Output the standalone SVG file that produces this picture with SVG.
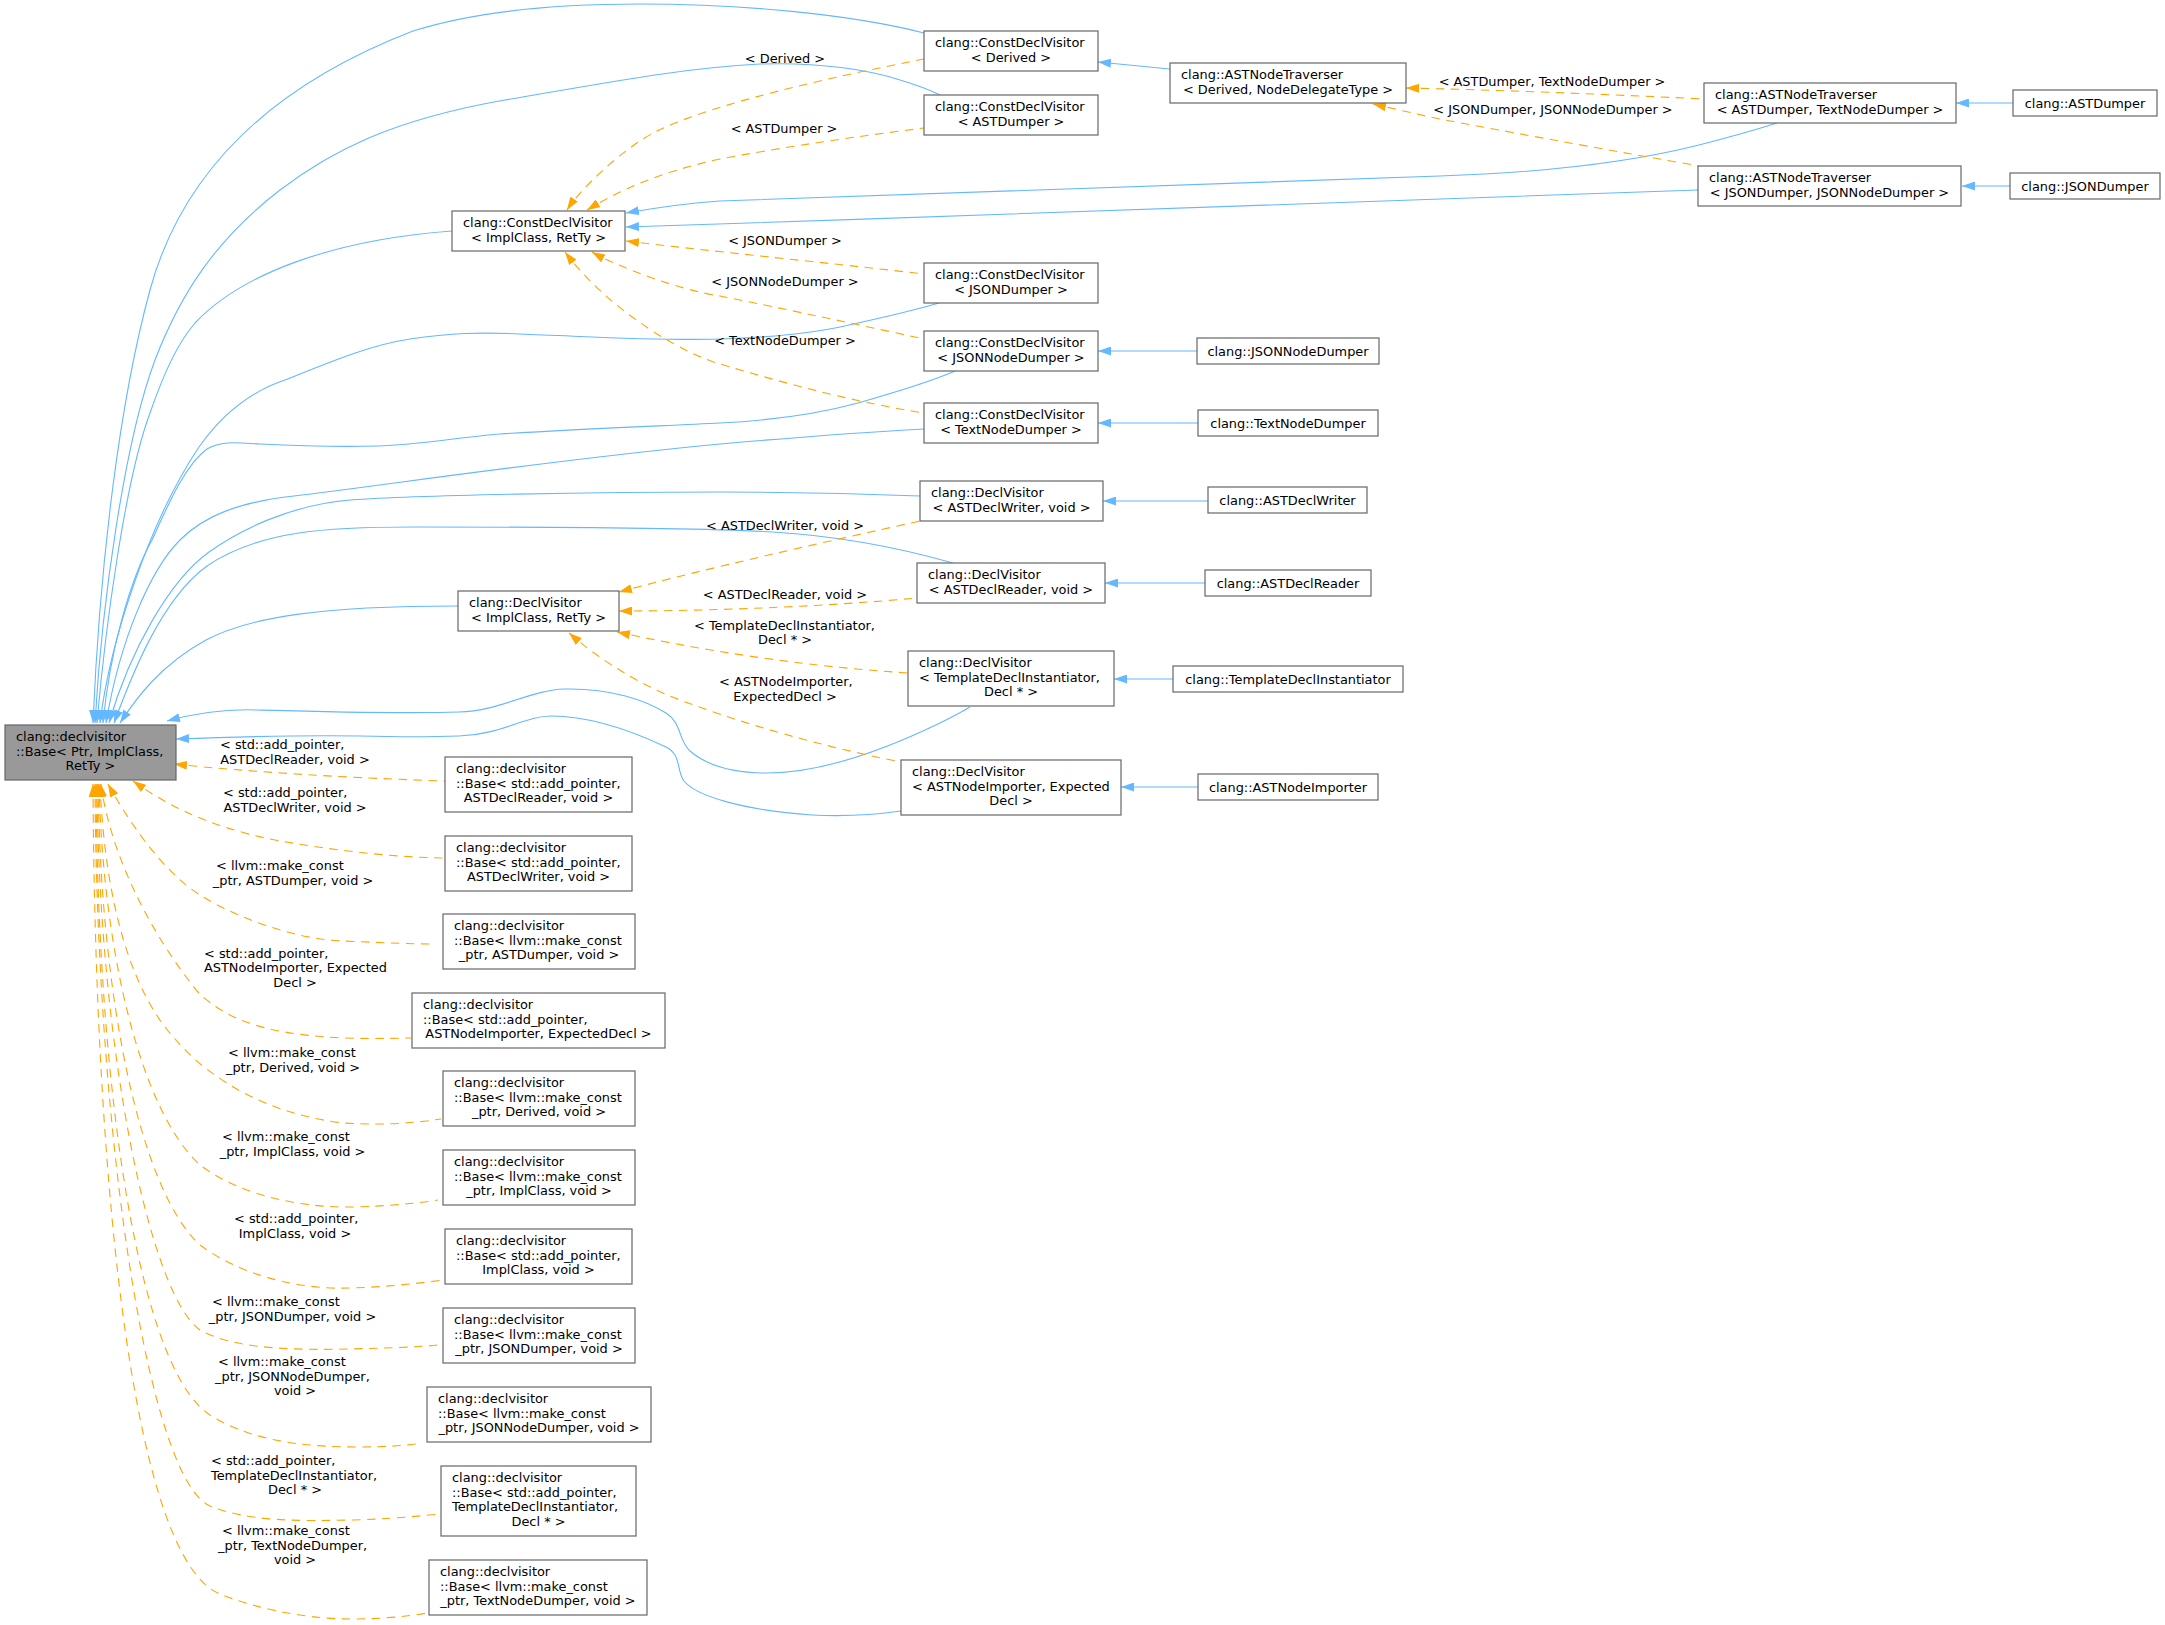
<svg xmlns="http://www.w3.org/2000/svg" width="2165" height="1625" viewBox="0 0 2165 1625">
<style>
.n rect{fill:#fff;stroke:#666;stroke-width:1.2}
.n.root rect{fill:#999}
text{font-family:"DejaVu Sans","Liberation Sans",sans-serif;font-size:12.9px;fill:#000}
.m{text-anchor:middle}
.e path{fill:none;stroke-width:1.1}
.e .p{stroke:#63b8ff;marker-start:url(#ab)}
.e .t{stroke:#ffa500;stroke-dasharray:8.5,6.5;marker-start:url(#ao)}
</style>
<defs>
<marker id="ab" viewBox="0 0 13 9" refX="13" refY="4.5" markerWidth="13" markerHeight="9" markerUnits="userSpaceOnUse" orient="auto-start-reverse"><path d="M0,0 L13,4.5 L0,9 z" fill="#63b8ff"/></marker>
<marker id="ao" viewBox="0 0 13 9" refX="13" refY="4.5" markerWidth="13" markerHeight="9" markerUnits="userSpaceOnUse" orient="auto-start-reverse"><path d="M0,0 L13,4.5 L0,9 z" fill="#ffa500"/></marker>
</defs>
<rect width="2165" height="1625" fill="#fff"/>
<g id="connectors" class="e">
<path class="p" d="M93,723 C100,560 120,400 150,290 C180,180 260,90 413,31 C480,10 560,4 640,4 C740,4 850,14 924,33"/>
<path class="p" d="M95,723 C102,600 125,440 155,360 C180,295 215,240 280,190 C330,152 390,120 505,100 C600,84 680,68 760,64 C820,62 870,70 900,80 C920,86 932,91 940,95"/>
<path class="p" d="M97,723 C105,630 125,480 150,413 C165,370 178,343 195,323 C240,275 330,240 452,231"/>
<path class="p" d="M100,723 C110,640 150,520 199,447 C225,410 255,390 285,380 C330,362 370,345 410,339 C450,333 480,332 520,334 C600,337 660,341 720,339 C780,337 820,332 849,325 C890,316 915,310 939,303"/>
<path class="p" d="M103,723 C110,650 130,580 152,540 C168,505 185,465 207,449 C222,440 240,443 260,444 C300,446 340,447 377,446 C420,445 460,437 500,434 C580,429 660,426 720,423 C780,420 825,412 858,403 C900,391 930,382 955,371"/>
<path class="p" d="M106,723 C120,640 150,570 180,540 C205,515 240,502 294,496 C380,486 550,460 720,444 C800,437 870,432 924,429"/>
<path class="p" d="M109,723 C130,650 170,580 209,552 C240,530 290,505 350,500 C420,495 600,492 720,492 C800,492 870,494 920,496"/>
<path class="p" d="M114,723 C130,680 160,600 207,566 C260,530 330,527 414,527 C550,527 700,528 773,532 C840,536 900,548 953,563"/>
<path class="p" d="M120,723 C135,700 160,665 206,640 C250,617 320,606 458,606"/>
<path class="p" d="M167,721 C200,712 230,709 257,710 C330,712 400,714 459,712 C500,711 530,690 565,689 C610,688 645,700 666,713 C682,723 678,740 690,751 C705,764 730,773 767,773 C820,773 880,752 940,723 C952,717 962,712 970,707"/>
<path class="p" d="M176,739 C230,737 300,735 360,736 C400,737 430,737 459,736 C500,735 525,716 551,716 C590,716 630,730 666,747 C682,755 676,770 684,781 C695,795 740,810 812,815 C850,817 880,814 901,811"/>
<path class="p" d="M1098,62 L1170,69"/>
<path class="p" d="M626,213 C660,207 690,203 720,201 C960,193 1200,185 1440,176 C1530,173 1620,165 1699,145 C1730,137 1755,130 1777,123"/>
<path class="p" d="M626,227 C1000,215 1400,200 1698,190"/>
<path class="p" d="M1956,103 L2013,103"/>
<path class="p" d="M1962,186 L2010,186"/>
<path class="p" d="M1098,351 L1197,351"/>
<path class="p" d="M1098,423 L1198,423"/>
<path class="p" d="M1103,501 L1208,501"/>
<path class="p" d="M1105,583 L1205,583"/>
<path class="p" d="M1114,679 L1173,679"/>
<path class="p" d="M1121,787 L1198,787"/>
<path class="t" d="M567,210 C580,190 620,150 657,131 C700,110 790,85 924,59"/>
<path class="t" d="M587,210 C620,190 660,172 720,159 C790,146 860,136 924,128"/>
<path class="t" d="M626,241 C700,250 820,262 924,274"/>
<path class="t" d="M592,252 C620,268 680,290 720,296 C790,310 860,325 924,339"/>
<path class="t" d="M565,252 C590,285 620,310 657,334 C680,348 700,358 720,364 C790,385 860,403 924,413"/>
<path class="t" d="M1406,88 C1500,90 1600,94 1704,99"/>
<path class="t" d="M1373,104 C1400,110 1420,115 1440,119 C1530,136 1620,152 1699,166"/>
<path class="t" d="M619,592 C700,570 820,543 920,521"/>
<path class="t" d="M619,611 C720,611 830,606 917,598"/>
<path class="t" d="M617,632 C700,650 800,666 908,673"/>
<path class="t" d="M569,633 C600,660 640,685 680,700 C760,730 840,750 901,762"/>
<path class="t" d="M174,764 C250,772 350,778 445,781"/>
<path class="t" d="M133,781 C160,800 200,825 275,840 C330,850 390,857 443,858"/>
<path class="t" d="M108,784 C125,815 160,870 200,895 C240,920 300,940 344,941 C390,943 415,944 436,944"/>
<path class="t" d="M101,784 C108,840 140,920 197,991 C230,1025 280,1035 344,1038 C380,1039 400,1038 411,1038"/>
<path class="t" d="M100,784 C105,900 130,990 175,1039 C210,1080 270,1115 344,1123 C390,1126 420,1122 441,1119"/>
<path class="t" d="M99,784 C103,950 140,1110 200,1165 C240,1195 300,1208 353,1207 C390,1206 420,1203 438,1200"/>
<path class="t" d="M98,784 C101,1000 140,1190 200,1245 C240,1275 300,1290 349,1288 C390,1287 420,1283 444,1280"/>
<path class="t" d="M97,784 C99,1050 150,1295 200,1330 C235,1350 300,1350 349,1349 C390,1348 420,1347 438,1345"/>
<path class="t" d="M96,784 C98,1100 140,1370 210,1415 C250,1440 300,1447 358,1447 C390,1447 410,1445 422,1443"/>
<path class="t" d="M95,784 C97,1150 150,1480 210,1506 C250,1522 300,1521 353,1520 C390,1519 420,1516 440,1514"/>
<path class="t" d="M93,784 C95,1200 135,1560 220,1594 C260,1610 310,1619 350,1619 C385,1619 410,1616 427,1613"/>
<g id="edge-labels">
<text class="m" x="785" y="63">&lt; Derived &gt;</text>
<text class="m" x="784" y="133">&lt; ASTDumper &gt;</text>
<text class="m" x="785" y="245">&lt; JSONDumper &gt;</text>
<text class="m" x="785" y="285.5">&lt; JSONNodeDumper &gt;</text>
<text class="m" x="785" y="345">&lt; TextNodeDumper &gt;</text>
<text class="m" x="1552" y="86">&lt; ASTDumper, TextNodeDumper &gt;</text>
<text class="m" x="1553" y="113.5">&lt; JSONDumper, JSONNodeDumper &gt;</text>
<text class="m" x="785" y="530">&lt; ASTDeclWriter, void &gt;</text>
<text class="m" x="785" y="598.6">&lt; ASTDeclReader, void &gt;</text>
<text x="694" y="629.6">&lt; TemplateDeclInstantiator,</text>
<text class="m" x="785" y="644.3">Decl * &gt;</text>
<text x="719" y="686.3">&lt; ASTNodeImporter,</text>
<text class="m" x="785" y="701">ExpectedDecl &gt;</text>
<text x="220" y="749">&lt; std::add_pointer,</text>
<text class="m" x="295" y="763.7">ASTDeclReader, void &gt;</text>
<text x="223" y="797">&lt; std::add_pointer,</text>
<text class="m" x="295" y="811.7">ASTDeclWriter, void &gt;</text>
<text x="216" y="870">&lt; llvm::make_const</text>
<text class="m" x="293" y="884.7">_ptr, ASTDumper, void &gt;</text>
<text x="204" y="957.6">&lt; std::add_pointer,</text>
<text x="204" y="972.3">ASTNodeImporter, Expected</text>
<text class="m" x="295" y="987">Decl &gt;</text>
<text x="228" y="1057">&lt; llvm::make_const</text>
<text class="m" x="293" y="1071.7">_ptr, Derived, void &gt;</text>
<text x="222" y="1141">&lt; llvm::make_const</text>
<text class="m" x="292.5" y="1155.7">_ptr, ImplClass, void &gt;</text>
<text x="234" y="1223">&lt; std::add_pointer,</text>
<text class="m" x="295" y="1237.7">ImplClass, void &gt;</text>
<text x="212" y="1306">&lt; llvm::make_const</text>
<text class="m" x="292.5" y="1320.7">_ptr, JSONDumper, void &gt;</text>
<text x="218" y="1366">&lt; llvm::make_const</text>
<text x="215" y="1380.7">_ptr, JSONNodeDumper,</text>
<text class="m" x="295" y="1395.3">void &gt;</text>
<text x="211" y="1465">&lt; std::add_pointer,</text>
<text x="211" y="1479.7">TemplateDeclInstantiator,</text>
<text class="m" x="295" y="1494.3">Decl * &gt;</text>
<text x="222" y="1535">&lt; llvm::make_const</text>
<text x="218" y="1549.7">_ptr, TextNodeDumper,</text>
<text class="m" x="295" y="1564.3">void &gt;</text>
</g>
</g>
<g id="nodes">
<g id="n-base" class="n root"><rect x="5" y="725" width="171" height="55"/><text x="16" y="741">clang::declvisitor</text><text x="16" y="755.7">::Base&lt; Ptr, ImplClass,</text><text class="m" x="90.5" y="770.3">RetTy &gt;</text></g>
<g id="n-cdv-impl" class="n"><rect x="452" y="211" width="173" height="40"/><text x="463" y="227">clang::ConstDeclVisitor</text><text class="m" x="538.5" y="241.7">&lt; ImplClass, RetTy &gt;</text></g>
<g id="n-cdv-derived" class="n"><rect x="924" y="31" width="174" height="40"/><text x="935" y="47">clang::ConstDeclVisitor</text><text class="m" x="1011" y="61.7">&lt; Derived &gt;</text></g>
<g id="n-cdv-astdumper" class="n"><rect x="924" y="95" width="174" height="40"/><text x="935" y="111">clang::ConstDeclVisitor</text><text class="m" x="1011" y="125.7">&lt; ASTDumper &gt;</text></g>
<g id="n-ant-derived" class="n"><rect x="1170" y="63" width="236" height="40"/><text x="1181" y="79">clang::ASTNodeTraverser</text><text class="m" x="1288" y="93.7">&lt; Derived, NodeDelegateType &gt;</text></g>
<g id="n-ant-astdumper" class="n"><rect x="1704" y="83" width="252" height="40"/><text x="1715" y="99">clang::ASTNodeTraverser</text><text class="m" x="1830" y="113.7">&lt; ASTDumper, TextNodeDumper &gt;</text></g>
<g id="n-astdumper" class="n"><rect x="2013" y="90" width="144" height="26"/><text class="m" x="2085" y="107.6">clang::ASTDumper</text></g>
<g id="n-ant-json" class="n"><rect x="1698" y="166" width="263" height="40"/><text x="1709" y="182">clang::ASTNodeTraverser</text><text class="m" x="1829.5" y="196.7">&lt; JSONDumper, JSONNodeDumper &gt;</text></g>
<g id="n-jsondumper" class="n"><rect x="2010" y="173" width="150" height="26"/><text class="m" x="2085" y="190.6">clang::JSONDumper</text></g>
<g id="n-cdv-json" class="n"><rect x="924" y="263" width="174" height="40"/><text x="935" y="279">clang::ConstDeclVisitor</text><text class="m" x="1011" y="293.7">&lt; JSONDumper &gt;</text></g>
<g id="n-cdv-jsonnode" class="n"><rect x="924" y="331" width="174" height="40"/><text x="935" y="347">clang::ConstDeclVisitor</text><text class="m" x="1011" y="361.7">&lt; JSONNodeDumper &gt;</text></g>
<g id="n-jsonnodedumper" class="n"><rect x="1197" y="338" width="182" height="26"/><text class="m" x="1288" y="355.6">clang::JSONNodeDumper</text></g>
<g id="n-cdv-text" class="n"><rect x="924" y="403" width="174" height="40"/><text x="935" y="419">clang::ConstDeclVisitor</text><text class="m" x="1011" y="433.7">&lt; TextNodeDumper &gt;</text></g>
<g id="n-textnodedumper" class="n"><rect x="1198" y="410" width="180" height="26"/><text class="m" x="1288" y="427.6">clang::TextNodeDumper</text></g>
<g id="n-dv-writer" class="n"><rect x="920" y="481" width="183" height="40"/><text x="931" y="497">clang::DeclVisitor</text><text class="m" x="1011.5" y="511.7">&lt; ASTDeclWriter, void &gt;</text></g>
<g id="n-astdeclwriter" class="n"><rect x="1208" y="487" width="159" height="26"/><text class="m" x="1287.5" y="504.6">clang::ASTDeclWriter</text></g>
<g id="n-dv-reader" class="n"><rect x="917" y="563" width="188" height="40"/><text x="928" y="579">clang::DeclVisitor</text><text class="m" x="1011" y="593.7">&lt; ASTDeclReader, void &gt;</text></g>
<g id="n-astdeclreader" class="n"><rect x="1205" y="570" width="166" height="26"/><text class="m" x="1288" y="587.6">clang::ASTDeclReader</text></g>
<g id="n-dv-impl" class="n"><rect x="458" y="591" width="161" height="40"/><text x="469" y="607">clang::DeclVisitor</text><text class="m" x="538.5" y="621.7">&lt; ImplClass, RetTy &gt;</text></g>
<g id="n-dv-tdi" class="n"><rect x="908" y="651" width="206" height="55"/><text x="919" y="667">clang::DeclVisitor</text><text x="919" y="681.7">&lt; TemplateDeclInstantiator,</text><text class="m" x="1011" y="696.3">Decl * &gt;</text></g>
<g id="n-tdi" class="n"><rect x="1173" y="666" width="230" height="26"/><text class="m" x="1288" y="683.6">clang::TemplateDeclInstantiator</text></g>
<g id="n-dv-ani" class="n"><rect x="901" y="760" width="220" height="55"/><text x="912" y="776">clang::DeclVisitor</text><text x="912" y="790.7">&lt; ASTNodeImporter, Expected</text><text class="m" x="1011" y="805.3">Decl &gt;</text></g>
<g id="n-ani" class="n"><rect x="1198" y="774" width="180" height="26"/><text class="m" x="1288" y="791.6">clang::ASTNodeImporter</text></g>
<g id="n-b1" class="n"><rect x="445" y="757" width="187" height="55"/><text x="456" y="773">clang::declvisitor</text><text x="456" y="787.7">::Base&lt; std::add_pointer,</text><text class="m" x="538.5" y="802.3">ASTDeclReader, void &gt;</text></g>
<g id="n-b2" class="n"><rect x="445" y="836" width="187" height="55"/><text x="456" y="852">clang::declvisitor</text><text x="456" y="866.7">::Base&lt; std::add_pointer,</text><text class="m" x="538.5" y="881.3">ASTDeclWriter, void &gt;</text></g>
<g id="n-b3" class="n"><rect x="443" y="914" width="192" height="55"/><text x="454" y="930">clang::declvisitor</text><text x="454" y="944.7">::Base&lt; llvm::make_const</text><text class="m" x="539" y="959.3">_ptr, ASTDumper, void &gt;</text></g>
<g id="n-b4" class="n"><rect x="412" y="993" width="253" height="55"/><text x="423" y="1009">clang::declvisitor</text><text x="423" y="1023.7">::Base&lt; std::add_pointer,</text><text class="m" x="538.5" y="1038.3">ASTNodeImporter, ExpectedDecl &gt;</text></g>
<g id="n-b5" class="n"><rect x="443" y="1071" width="192" height="55"/><text x="454" y="1087">clang::declvisitor</text><text x="454" y="1101.7">::Base&lt; llvm::make_const</text><text class="m" x="539" y="1116.3">_ptr, Derived, void &gt;</text></g>
<g id="n-b6" class="n"><rect x="443" y="1150" width="192" height="55"/><text x="454" y="1166">clang::declvisitor</text><text x="454" y="1180.7">::Base&lt; llvm::make_const</text><text class="m" x="539" y="1195.3">_ptr, ImplClass, void &gt;</text></g>
<g id="n-b7" class="n"><rect x="445" y="1229" width="187" height="55"/><text x="456" y="1245">clang::declvisitor</text><text x="456" y="1259.7">::Base&lt; std::add_pointer,</text><text class="m" x="538.5" y="1274.3">ImplClass, void &gt;</text></g>
<g id="n-b8" class="n"><rect x="443" y="1308" width="192" height="55"/><text x="454" y="1324">clang::declvisitor</text><text x="454" y="1338.7">::Base&lt; llvm::make_const</text><text class="m" x="539" y="1353.3">_ptr, JSONDumper, void &gt;</text></g>
<g id="n-b9" class="n"><rect x="427" y="1387" width="224" height="55"/><text x="438" y="1403">clang::declvisitor</text><text x="438" y="1417.7">::Base&lt; llvm::make_const</text><text class="m" x="539" y="1432.3">_ptr, JSONNodeDumper, void &gt;</text></g>
<g id="n-b10" class="n"><rect x="441" y="1466" width="195" height="70"/><text x="452" y="1482">clang::declvisitor</text><text x="452" y="1496.7">::Base&lt; std::add_pointer,</text><text x="452" y="1511.3">TemplateDeclInstantiator,</text><text class="m" x="538.5" y="1526">Decl * &gt;</text></g>
<g id="n-b11" class="n"><rect x="429" y="1560" width="218" height="55"/><text x="440" y="1576">clang::declvisitor</text><text x="440" y="1590.7">::Base&lt; llvm::make_const</text><text class="m" x="538" y="1605.3">_ptr, TextNodeDumper, void &gt;</text></g>
</g>
</svg>
